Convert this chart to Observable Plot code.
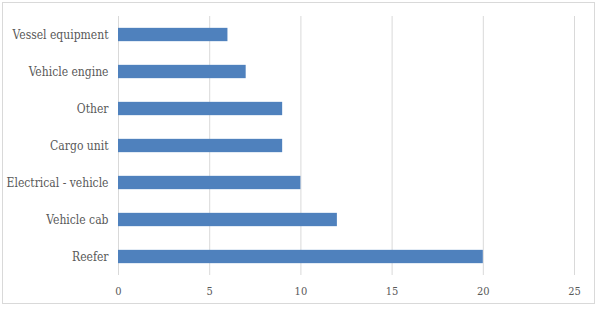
<!DOCTYPE html>
<html>
<head>
<meta charset="utf-8">
<script src="https://cdn.jsdelivr.net/npm/d3@7"></script>
<script src="https://cdn.jsdelivr.net/npm/@observablehq/plot@0.6"></script>
<style>
  body { margin: 0; background: #fff; }
  #wrap { position: relative; width: 599px; height: 309px; }
  #frame { position: absolute; left: 2px; top: 2px; width: 593px; height: 302px; border: 1px solid #d9d9d9; box-sizing: border-box; pointer-events: none; }
  #chart svg { display: block; }
</style>
</head>
<body>
<div id="wrap"><div id="chart"></div><div id="frame"></div></div>
<script>
const categories = ["Vessel equipment", "Vehicle engine", "Other", "Cargo unit", "Electrical - vehicle", "Vehicle cab", "Reefer"];
const values = [6, 7, 9, 9, 10, 12, 20];
const xTicks = [0, 5, 10, 15, 20, 25];

const data = categories.map((c, i) => ({category: c, value: values[i]}));
const serif = "'DejaVu Serif Condensed', 'Liberation Serif', serif";

const chart = Plot.plot({
  width: 599,
  height: 309,
  marginLeft: 118,
  marginRight: 25,
  marginTop: 16,
  marginBottom: 34,
  style: {fontFamily: serif, fontSize: "12px", color: "#595959", background: "#fff"},
  x: {domain: [0, 25], ticks: xTicks, grid: false},
  y: {domain: categories, paddingInner: 0.64, paddingOuter: 0.32, round: false, label: null},
  marks: [
    Plot.gridX(xTicks, {stroke: "#d9d9d9", strokeOpacity: 1, strokeWidth: 1}),
    Plot.barX(data, {x: "value", y: "category", fill: "#4f81bd"}),
    Plot.axisX({ticks: xTicks, tickSize: 0, tickPadding: 12, label: null, fontSize: 11, fontFamily: serif}),
    Plot.axisY({tickSize: 0, tickPadding: 10, label: null, fontSize: 12, fontFamily: serif})
  ]
});
document.getElementById("chart").appendChild(chart);
</script>
</body>
</html>
